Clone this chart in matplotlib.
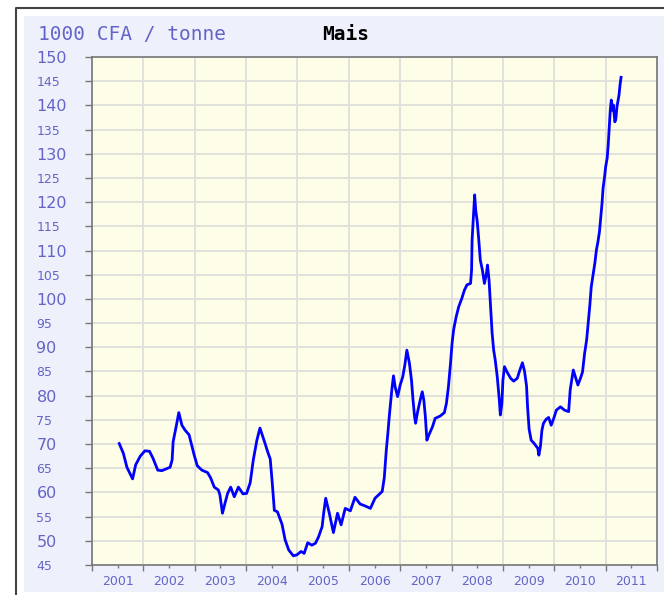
import numpy as np
import matplotlib
matplotlib.use("Agg")
import matplotlib.pyplot as plt
from matplotlib.patches import Rectangle
from matplotlib.lines import Line2D
from matplotlib.ticker import FixedLocator, NullFormatter

# ------------------- data -------------------
years = [2001.53, 2001.61, 2001.68, 2001.79, 2001.85, 2001.94, 2002.03, 2002.12,
         2002.19, 2002.28, 2002.36, 2002.52, 2002.56, 2002.58, 2002.64, 2002.69,
         2002.75, 2002.81, 2002.89, 2002.94, 2002.99, 2003.05, 2003.14, 2003.25,
         2003.31, 2003.38, 2003.46, 2003.49, 2003.54, 2003.59, 2003.64, 2003.70,
         2003.77, 2003.85, 2003.94, 2004.01, 2004.08, 2004.14, 2004.21, 2004.27,
         2004.37, 2004.42, 2004.47, 2004.51, 2004.55, 2004.61, 2004.70, 2004.76,
         2004.83, 2004.92, 2004.99, 2005.07, 2005.13, 2005.20, 2005.28, 2005.35,
         2005.41, 2005.48, 2005.51, 2005.55, 2005.62, 2005.70, 2005.78, 2005.85,
         2005.93, 2006.03, 2006.12, 2006.22, 2006.32, 2006.42, 2006.51, 2006.65,
         2006.69, 2006.73, 2006.76, 2006.79, 2006.84, 2006.87, 2006.90, 2006.95,
         2007.00, 2007.05, 2007.09, 2007.13, 2007.18, 2007.22, 2007.25, 2007.28,
         2007.30, 2007.34, 2007.39, 2007.43, 2007.46, 2007.49, 2007.52, 2007.56,
         2007.63, 2007.68, 2007.78, 2007.86, 2007.90, 2007.94, 2007.98, 2008.01,
         2008.04, 2008.09, 2008.14, 2008.20, 2008.25, 2008.30, 2008.37, 2008.39,
         2008.40, 2008.43, 2008.45, 2008.47, 2008.50, 2008.53, 2008.56, 2008.60,
         2008.64, 2008.68, 2008.70, 2008.73, 2008.76, 2008.79, 2008.82, 2008.85,
         2008.89, 2008.93, 2008.95, 2008.98, 2009.00, 2009.03, 2009.08, 2009.15,
         2009.21, 2009.28, 2009.33, 2009.38, 2009.42, 2009.46, 2009.48, 2009.51,
         2009.55, 2009.61, 2009.68, 2009.70, 2009.73, 2009.76, 2009.79, 2009.84,
         2009.89, 2009.94, 2009.99, 2010.04, 2010.12, 2010.20, 2010.28, 2010.31,
         2010.37, 2010.41, 2010.46, 2010.51, 2010.55, 2010.59, 2010.63, 2010.66,
         2010.69, 2010.72, 2010.76, 2010.79, 2010.82, 2010.85, 2010.88, 2010.90,
         2010.93, 2010.95, 2010.98, 2011.00, 2011.03, 2011.05, 2011.07, 2011.09,
         2011.11, 2011.13, 2011.15, 2011.18, 2011.20, 2011.22, 2011.26, 2011.28,
         2011.30]
prices = [70.1, 68.1, 65.2, 62.8, 65.7, 67.5, 68.6, 68.5,
          67.0, 64.6, 64.5, 65.2, 66.7, 70.5, 73.7, 76.5,
          73.9, 72.9, 71.9, 69.8, 67.7, 65.5, 64.6, 64.1,
          63.0, 61.1, 60.5, 59.5, 55.7, 57.8, 59.8, 61.1,
          59.1, 61.1, 59.7, 59.8, 62.0, 66.7, 70.8, 73.3,
          70.1, 68.4, 66.9, 61.9, 56.3, 56.0, 53.4, 50.2,
          48.1, 46.9, 47.1, 47.8, 47.4, 49.6, 49.1, 49.5,
          50.8, 52.9, 55.7, 58.8, 55.7, 51.7, 55.7, 53.3,
          56.7, 56.2, 59.0, 57.6, 57.2, 56.7, 58.8, 60.2,
          63.0, 68.8, 72.2, 76.0, 81.5, 84.1, 81.9, 79.8,
          82.2, 83.9, 86.3, 89.4, 86.7, 83.2, 79.1, 75.7,
          74.3, 76.7, 79.1, 80.8, 79.1, 75.7, 70.8, 71.9,
          73.6, 75.3, 75.8, 76.5, 78.4, 81.9, 86.7, 90.8,
          93.6, 96.3, 98.4, 100.1, 101.8, 102.9, 103.2, 106.0,
          112.2, 117.7, 121.5, 118.4, 116.0, 112.2, 108.0, 106.0,
          103.2, 105.3, 107.0, 103.9, 98.4, 92.9, 89.4, 87.4,
          83.9, 79.1, 76.0, 78.4, 83.2, 86.0, 84.9, 83.6,
          83.0, 83.6, 85.3, 86.8, 85.1, 82.0, 77.7, 73.1,
          70.8, 70.1, 69.1, 67.7, 69.5, 72.9, 74.3, 75.1,
          75.5, 73.9, 75.3, 77.0, 77.7, 77.0, 76.7, 81.2,
          85.3, 83.9, 82.2, 83.6, 84.9, 88.7, 91.5, 95.0,
          98.4, 102.5, 105.3, 107.4, 110.1, 111.8, 113.9, 116.3,
          119.8, 122.9, 125.3, 127.3, 129.1, 131.8, 135.6, 139.0,
          141.1, 139.0, 140.1, 136.6, 137.3, 139.7, 142.1, 144.2,
          145.8]

year_labels = ["2001", "2002", "2003", "2004", "2005", "2006",
               "2007", "2008", "2009", "2010", "2011"]
y_ticks = list(range(45, 151, 5))

UNIT_LABEL = "1000 CFA / tonne"
TITLE = "Mais"

# ------------------- style -------------------
PANEL_BG = "#eef1fb"
PLOT_BG = "#fdfde8"
GRID_COL = "#e0e0dc"
LABEL_COL = "#6464c8"
AXIS_COL = "#777777"

W, H = 664, 595
fig = plt.figure(figsize=(W / 100, H / 100), dpi=100)
fig.patch.set_facecolor("white")

# outer frame and lavender panel
fig.patches.append(Rectangle((24 / W, 1 - 592 / H), 1, (592 - 16) / H,
                             transform=fig.transFigure, facecolor=PANEL_BG,
                             edgecolor="none", zorder=-2))
fig.lines.append(Line2D([16 / W, 16 / W, 1], [0, 1 - 8 / H, 1 - 8 / H],
                        transform=fig.transFigure, color="#444444", lw=1.5))

ax = fig.add_axes([92 / W, 30 / H, 565 / W, 508 / H])
ax.set_facecolor(PLOT_BG)

ax.plot(years, prices, color="#0000ff", lw=2.0, zorder=3)

ax.set_xlim(2001, 2012)
ax.set_ylim(45, 150)

# x: gridlines at year boundaries, labels at mid-year
ax.xaxis.set_major_locator(FixedLocator(np.arange(2001, 2013)))
ax.xaxis.set_major_formatter(NullFormatter())
ax.xaxis.set_minor_locator(FixedLocator(np.arange(2001, 2012) + 0.5))
ax.set_xticklabels(year_labels, minor=True)
ax.tick_params(axis="x", which="major", direction="out", length=4,
               color=AXIS_COL, width=1)
ax.tick_params(axis="x", which="minor", direction="out", length=2,
               color=AXIS_COL, width=1, labelsize=9, labelcolor=LABEL_COL,
               pad=5)

# y: every 5, big labels on tens, small on fives, left-aligned
ax.set_yticks(y_ticks)
ax.set_yticklabels([str(v) for v in y_ticks])
ax.tick_params(axis="y", direction="out", length=5, color=AXIS_COL,
               width=1, labelcolor=LABEL_COL, pad=35)
for v, lab in zip(y_ticks, ax.get_yticklabels()):
    lab.set_horizontalalignment("left")
    lab.set_fontsize(11.5 if v % 10 == 0 else 9)

ax.grid(True, which="major", axis="both", color=GRID_COL, lw=1.3, zorder=0)
ax.set_axisbelow(True)
for s in ax.spines.values():
    s.set_color(AXIS_COL)
    s.set_linewidth(1.2)

# header texts
fig.text(38 / W, 1 - 34 / H, UNIT_LABEL, family="DejaVu Sans Mono",
         fontsize=14, color=LABEL_COL, va="center", ha="left")
fig.text(346 / W, 1 - 34 / H, TITLE, family="DejaVu Sans Mono",
         fontsize=14, fontweight="bold", color="black", va="center",
         ha="center")

fig.savefig("out.png", dpi=100, facecolor=fig.get_facecolor())
